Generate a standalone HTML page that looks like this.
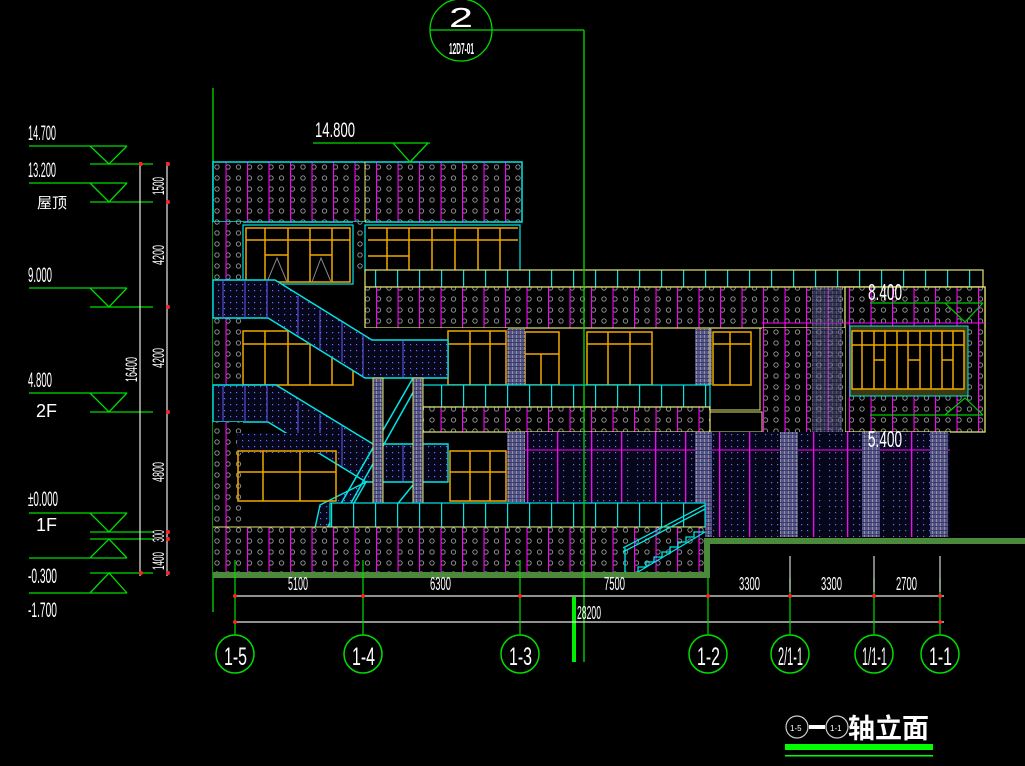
<!DOCTYPE html>
<html><head><meta charset="utf-8"><style>
html,body{margin:0;padding:0;background:#000;}
svg{display:block}
text{font-family:"Liberation Sans","Noto Sans CJK SC",sans-serif;fill:#fff}
</style></head><body>
<svg width="1025" height="766" viewBox="0 0 1025 766" xmlns="http://www.w3.org/2000/svg">
<defs>
<pattern id="dm" x="213" y="162" width="21.5" height="11" patternUnits="userSpaceOnUse">
<rect width="21.5" height="11" fill="#000"/>
<circle cx="4" cy="5" r="2.2" fill="none" stroke="#9a9a9a" stroke-width="0.9"/>
<circle cx="15" cy="5" r="2.2" fill="none" stroke="#9a9a9a" stroke-width="0.9"/>
<rect x="12.5" y="0" width="1.1" height="11" fill="#ff00ff"/>
</pattern>
<pattern id="dg" x="213" y="162" width="11" height="11" patternUnits="userSpaceOnUse">
<rect width="11" height="11" fill="#000"/>
<circle cx="4" cy="5" r="2.2" fill="none" stroke="#9a9a9a" stroke-width="0.9"/>
</pattern>
<pattern id="bl" x="0" y="0" width="6" height="6" patternUnits="userSpaceOnUse">
<rect width="6" height="6" fill="#06061a"/>
<rect x="2" y="2" width="1.2" height="1.2" fill="#6a6aff"/>
</pattern>
<pattern id="blm" x="507" y="0" width="64" height="6" patternUnits="userSpaceOnUse">
<rect width="64" height="6" fill="#06061a"/>
<rect x="2" y="2" width="1.2" height="1.2" fill="#6a6aff"/>
<rect x="8" y="2" width="1.2" height="1.2" fill="#6a6aff"/>
<rect x="14" y="2" width="1.2" height="1.2" fill="#6a6aff"/>
<rect x="20" y="2" width="1.2" height="1.2" fill="#6a6aff"/>
<rect x="26" y="2" width="1.2" height="1.2" fill="#6a6aff"/>
<rect x="32" y="2" width="1.2" height="1.2" fill="#6a6aff"/>
<rect x="38" y="2" width="1.2" height="1.2" fill="#6a6aff"/>
<rect x="44" y="2" width="1.2" height="1.2" fill="#6a6aff"/>
<rect x="50" y="2" width="1.2" height="1.2" fill="#6a6aff"/>
<rect x="56" y="2" width="1.2" height="1.2" fill="#6a6aff"/>
<rect x="20" y="0" width="1.3" height="6" fill="#ff00ff"/>
<rect x="50" y="0" width="1.3" height="6" fill="#ff00ff"/>
</pattern>
<pattern id="col" x="0" y="0" width="4" height="4" patternUnits="userSpaceOnUse">
<rect width="4" height="4" fill="#55558a"/>
<rect x="0" y="0" width="1" height="4" fill="#9090a0"/>
<rect x="0" y="2" width="4" height="0.8" fill="#303060"/>
</pattern>
<pattern id="tick" x="365" y="0" width="22" height="10" patternUnits="userSpaceOnUse">
<rect width="22" height="10" fill="#000"/>
<rect x="10" y="0" width="1.2" height="10" fill="#00e5e5"/>
</pattern>
</defs>

<!-- Left elevation marks -->
<g stroke="#00dd00" stroke-width="1.3" fill="none">
<line x1="29" y1="146" x2="127" y2="146"/><polyline points="90,146 109,164 127,146"/><line x1="90" y1="164" x2="153" y2="164"/>
<line x1="29" y1="183" x2="127" y2="183"/><polyline points="90,183 109,202 127,183"/><line x1="90" y1="202" x2="153" y2="202"/>
<line x1="29" y1="288" x2="127" y2="288"/><polyline points="90,288 109,307 127,288"/><line x1="90" y1="307" x2="153" y2="307"/>
<line x1="29" y1="393" x2="127" y2="393"/><polyline points="90,393 109,412 127,393"/><line x1="90" y1="412" x2="153" y2="412"/>
<line x1="29" y1="513" x2="127" y2="513"/><polyline points="90,513 109,532 127,513"/><line x1="90" y1="532" x2="153" y2="532"/>
<line x1="90" y1="539" x2="153" y2="539"/><polyline points="90,558 109,539 127,558"/><line x1="29" y1="558" x2="127" y2="558"/>
<line x1="90" y1="573" x2="153" y2="573"/><polyline points="90,593 109,573 127,593"/><line x1="29" y1="593" x2="127" y2="593"/>
</g>
<g font-size="21">
<text x="28" y="140" textLength="28" lengthAdjust="spacingAndGlyphs">14.700</text>
<text x="28" y="177" textLength="28" lengthAdjust="spacingAndGlyphs">13.200</text>
<text x="37" y="208" font-size="15">屋顶</text>
<text x="28" y="282" textLength="24" lengthAdjust="spacingAndGlyphs">9.000</text>
<text x="28" y="387" textLength="24" lengthAdjust="spacingAndGlyphs">4.800</text>
<text x="36" y="417" font-size="18">2F</text>
<text x="28" y="506" textLength="30" lengthAdjust="spacingAndGlyphs">±0.000</text>
<text x="36" y="531" font-size="18">1F</text>
<text x="28" y="583" textLength="29" lengthAdjust="spacingAndGlyphs">-0.300</text>
<text x="28" y="617" textLength="29" lengthAdjust="spacingAndGlyphs">-1.700</text>
</g>
<g stroke="#e8e8e8" stroke-width="1.2">
<line x1="140" y1="162" x2="140" y2="576"/><line x1="167" y1="162" x2="167" y2="576"/>
</g>
<g fill="#ff2020">
<circle cx="141" cy="164" r="2"/><circle cx="168" cy="164" r="2"/><circle cx="168" cy="202" r="2"/><circle cx="168" cy="307" r="2"/><circle cx="168" cy="412" r="2"/><circle cx="168" cy="532" r="2"/><circle cx="168" cy="539" r="2"/><circle cx="141" cy="573" r="2"/><circle cx="168" cy="573" r="2"/>
</g>
<g font-size="17">
<text transform="translate(164,195) rotate(-90)" textLength="18" lengthAdjust="spacingAndGlyphs">1500</text>
<text transform="translate(164,265) rotate(-90)" textLength="20" lengthAdjust="spacingAndGlyphs">4200</text>
<text transform="translate(164,368) rotate(-90)" textLength="20" lengthAdjust="spacingAndGlyphs">4200</text>
<text transform="translate(164,482) rotate(-90)" textLength="20" lengthAdjust="spacingAndGlyphs">4800</text>
<text transform="translate(164,542) rotate(-90)" textLength="12" lengthAdjust="spacingAndGlyphs">300</text>
<text transform="translate(164,570) rotate(-90)" textLength="18" lengthAdjust="spacingAndGlyphs">1400</text>
<text transform="translate(137,382) rotate(-90)" textLength="25" lengthAdjust="spacingAndGlyphs">16400</text>
</g>

<line x1="213" y1="88" x2="213" y2="612" stroke="#00dd00" stroke-width="1.3"/>

<!-- top block -->
<rect x="213" y="162" width="309" height="60" fill="url(#dm)" stroke="#00e5e5" stroke-width="1.5"/>
<line x1="365" y1="162" x2="365" y2="222" stroke="#e5e570"/>
<rect x="213" y="222" width="30" height="58" fill="url(#dm)"/>
<rect x="353" y="222" width="12" height="50" fill="url(#dg)"/>
<g>
<rect x="243" y="225" width="110" height="59" fill="#000" stroke="#00e5e5" stroke-width="1.2"/>
<g stroke="#f0a800" stroke-width="1.5" fill="none">
<rect x="246" y="228" width="104" height="54"/>
<line x1="265" y1="228" x2="265" y2="282"/><line x1="288" y1="228" x2="288" y2="282"/><line x1="310" y1="228" x2="310" y2="282"/><line x1="332" y1="228" x2="332" y2="282"/>
<line x1="246" y1="240" x2="350" y2="240"/><line x1="265" y1="255" x2="288" y2="255"/><line x1="310" y1="255" x2="332" y2="255"/>
</g>
<polyline points="267,282 277,258 287,282" stroke="#888" fill="none"/>
<polyline points="312,282 321,258 331,282" stroke="#888" fill="none"/>
<rect x="365" y="225" width="155" height="46" fill="#000" stroke="#00e5e5" stroke-width="1.2"/>
<g stroke="#f0a800" stroke-width="1.5" fill="none">
<line x1="368" y1="228" x2="518" y2="228"/><line x1="387" y1="228" x2="387" y2="270"/><line x1="409" y1="228" x2="409" y2="270"/><line x1="432" y1="228" x2="432" y2="270"/><line x1="455" y1="228" x2="455" y2="270"/><line x1="478" y1="228" x2="478" y2="270"/><line x1="500" y1="228" x2="500" y2="270"/>
<line x1="368" y1="240" x2="518" y2="240"/><line x1="368" y1="256" x2="409" y2="256"/>
</g>
</g>

<rect x="365" y="270" width="618" height="17" fill="url(#tick)" stroke="#e5e570" stroke-width="1.2"/>
<rect x="365" y="287" width="620" height="41" fill="url(#dm)" stroke="#e5e570" stroke-width="1.2"/>
<rect x="845" y="287" width="140" height="145" fill="url(#dm)" stroke="#e5e570" stroke-width="1.3"/>
<line x1="762" y1="323" x2="985" y2="323" stroke="#ff00ff"/>
<rect x="762" y="328" width="83" height="104" fill="url(#dm)"/>
<rect x="812" y="287" width="30" height="145" fill="url(#col)" opacity="0.6"/>
<rect x="850" y="326" width="118" height="70" fill="#3a3a10" stroke="#00e5e5"/>
<g stroke="#f0a800" stroke-width="1.5" fill="none">
<rect x="852" y="331" width="112" height="58" fill="#000"/>
<line x1="862" y1="331" x2="862" y2="389"/><line x1="874" y1="331" x2="874" y2="389"/><line x1="885" y1="331" x2="885" y2="389"/><line x1="897" y1="331" x2="897" y2="389"/><line x1="908" y1="331" x2="908" y2="389"/><line x1="920" y1="331" x2="920" y2="389"/><line x1="931" y1="331" x2="931" y2="389"/><line x1="942" y1="331" x2="942" y2="389"/><line x1="953" y1="331" x2="953" y2="389"/>
<line x1="852" y1="345" x2="964" y2="345"/><line x1="874" y1="360" x2="885" y2="360"/><line x1="908" y1="360" x2="920" y2="360"/><line x1="942" y1="360" x2="953" y2="360"/>
</g>
<g stroke="#00cc00" stroke-width="1.2" fill="none">
<line x1="870" y1="303" x2="983" y2="303"/><polyline points="945,303 965,322 983,303"/>
<line x1="870" y1="415" x2="983" y2="415"/><polyline points="945,415 965,398 983,415"/>
</g>
<text x="868" y="300" font-size="23" textLength="34" lengthAdjust="spacingAndGlyphs">8.400</text>

<!-- middle floor -->
<rect x="213" y="318" width="30" height="112" fill="url(#dm)"/>
<rect x="243" y="328" width="265" height="57" fill="#000"/>
<g stroke="#f0a800" stroke-width="1.5" fill="none">
<rect x="243" y="331" width="110" height="54"/>
<line x1="265" y1="331" x2="265" y2="385"/><line x1="288" y1="331" x2="288" y2="385"/><line x1="310" y1="331" x2="310" y2="385"/><line x1="332" y1="331" x2="332" y2="385"/>
<line x1="243" y1="344" x2="353" y2="344"/>
<rect x="448" y="331" width="58" height="54"/><line x1="470" y1="331" x2="470" y2="385"/><line x1="490" y1="331" x2="490" y2="385"/><line x1="448" y1="344" x2="506" y2="344"/>
<rect x="525" y="332" width="34" height="53"/><line x1="525" y1="354" x2="559" y2="354"/><line x1="541" y1="354" x2="541" y2="385"/>
<rect x="587" y="332" width="65" height="53"/><line x1="608" y1="332" x2="608" y2="385"/><line x1="630" y1="332" x2="630" y2="385"/><line x1="587" y1="344" x2="652" y2="344"/>
<rect x="713" y="332" width="38" height="53"/><line x1="730" y1="332" x2="730" y2="385"/><line x1="713" y1="344" x2="751" y2="344"/>
</g>
<rect x="507" y="329" width="18" height="56" fill="url(#col)"/>
<rect x="695" y="329" width="17" height="56" fill="url(#col)"/>
<rect x="710" y="328" width="50" height="82" fill="none" stroke="#e5e570"/>
<rect x="710" y="412" width="52" height="20" fill="none" stroke="#e5e570"/>

<rect x="420" y="385" width="290" height="22" fill="url(#tick)" stroke="#00e5e5" stroke-width="1.2"/>
<rect x="420" y="407" width="290" height="25" fill="url(#dm)" stroke="#e5e570" stroke-width="1.2"/>

<!-- stairs -->
<g fill="url(#bl)" stroke="#00e5e5" stroke-width="1.4">
<polygon points="213,280 275,280 372,340 448,340 448,378 365,378 268,318 213,318"/>
<polygon points="213,385 276,385 373,444 448,444 448,482 366,482 268,422 213,422"/>
<polygon points="320,505 366,482 340,528 315,528"/>
</g>
<g stroke="#6060ff" stroke-width="1">
<line x1="223" y1="280" x2="223" y2="318"/><line x1="245" y1="280" x2="245" y2="318"/><line x1="267" y1="280" x2="267" y2="318"/><line x1="298" y1="296" x2="298" y2="336"/><line x1="320" y1="310" x2="320" y2="350"/><line x1="342" y1="322" x2="342" y2="362"/><line x1="363" y1="334" x2="363" y2="378"/><line x1="403" y1="340" x2="403" y2="378"/>
<line x1="223" y1="385" x2="223" y2="422"/><line x1="245" y1="385" x2="245" y2="422"/><line x1="267" y1="385" x2="267" y2="422"/><line x1="298" y1="401" x2="298" y2="440"/><line x1="320" y1="414" x2="320" y2="454"/><line x1="342" y1="426" x2="342" y2="467"/><line x1="403" y1="444" x2="403" y2="482"/>
</g>
<rect x="213" y="422" width="30" height="108" fill="url(#dm)"/>
<rect x="237" y="433" width="90" height="20" fill="url(#bl)"/>
<g stroke="#f0a800" stroke-width="1.5" fill="none">
<rect x="238" y="451" width="98" height="50"/>
<line x1="263" y1="451" x2="263" y2="501"/><line x1="300" y1="451" x2="300" y2="501"/><line x1="238" y1="472" x2="336" y2="472"/>
<rect x="450" y="451" width="56" height="50"/><line x1="470" y1="451" x2="470" y2="501"/><line x1="490" y1="451" x2="490" y2="501"/><line x1="450" y1="472" x2="506" y2="472"/>
</g>
<g stroke="#00e5e5" stroke-width="1.5">
<line x1="327" y1="528" x2="413" y2="378"/><line x1="337" y1="528" x2="420" y2="380"/>
<line x1="413" y1="485" x2="378" y2="528"/>
</g>
<rect x="373" y="378" width="10" height="152" fill="url(#col)" stroke="#e5e570"/>
<rect x="413" y="378" width="10" height="152" fill="url(#col)" stroke="#e5e570"/>

<!-- lower blue region -->
<rect x="507" y="432" width="443" height="105" fill="url(#blm)"/>
<line x1="507" y1="450" x2="950" y2="450" stroke="#ff00ff"/>
<rect x="507" y="432" width="18" height="70" fill="url(#col)"/>
<rect x="695" y="432" width="17" height="105" fill="url(#col)"/>
<rect x="780" y="432" width="18" height="105" fill="url(#col)"/>
<rect x="862" y="432" width="18" height="105" fill="url(#col)"/>
<rect x="930" y="432" width="18" height="105" fill="url(#col)"/>
<text x="868" y="447" font-size="23" textLength="34" lengthAdjust="spacingAndGlyphs">5.400</text>

<rect x="330" y="503" width="375" height="24" fill="url(#tick)" stroke="#00e5e5" stroke-width="1.2"/>
<rect x="213" y="527" width="492" height="46" fill="url(#dm)"/>
<line x1="213" y1="527" x2="705" y2="527" stroke="#e5e570"/>
<g stroke="#00e5e5" stroke-width="1.3" fill="none">
<line x1="623" y1="548" x2="705" y2="505"/><line x1="623" y1="552" x2="705" y2="509"/>
<polyline points="638,572 638,567 646,567 646,562 654,562 654,557 662,557 662,552 670,552 670,547 678,547 678,542 686,542 686,537 694,537 694,532 705,532"/>
<line x1="625" y1="548" x2="625" y2="572"/><line x1="638" y1="572" x2="705" y2="532"/>
</g>

<g fill="#4a8a3a">
<rect x="213" y="572" width="497" height="6"/>
<rect x="704" y="538" width="6" height="40"/>
<rect x="704" y="538" width="321" height="6"/>
</g>

<line x1="584" y1="30" x2="584" y2="662" stroke="#00dd00" stroke-width="1.3"/>
<line x1="430" y1="30" x2="584" y2="30" stroke="#00dd00" stroke-width="1.3"/>
<circle cx="461" cy="30" r="31" fill="none" stroke="#00dd00" stroke-width="1.3"/>
<text x="449" y="27" font-size="28" textLength="24" lengthAdjust="spacingAndGlyphs">2</text>
<text x="449" y="54" font-size="16" font-weight="bold" textLength="25" lengthAdjust="spacingAndGlyphs">12D7-01</text>
<rect x="572" y="597" width="4" height="65" fill="#00ee00"/>

<g stroke="#00dd00" stroke-width="1.3" fill="none">
<line x1="313" y1="143" x2="430" y2="143"/><polyline points="393,143 410,162 428,143"/>
</g>
<text x="315" y="137" font-size="21" textLength="40" lengthAdjust="spacingAndGlyphs">14.800</text>

<g stroke="#e8e8e8" stroke-width="1.3">
<line x1="233" y1="596" x2="944" y2="596"/><line x1="233" y1="622" x2="944" y2="622"/>
</g>
<g stroke="#00dd00" stroke-width="1.2">
<line x1="235" y1="560" x2="235" y2="635"/><line x1="363" y1="560" x2="363" y2="635"/><line x1="520" y1="560" x2="520" y2="635"/><line x1="708" y1="578" x2="708" y2="635"/><line x1="790" y1="578" x2="790" y2="635"/><line x1="874" y1="578" x2="874" y2="635"/><line x1="940" y1="578" x2="940" y2="635"/>
</g>
<g stroke="#fff" stroke-width="1"><line x1="790" y1="556" x2="790" y2="592"/><line x1="874" y1="556" x2="874" y2="592"/><line x1="940" y1="556" x2="940" y2="592"/></g>
<g fill="#ff2020">
<circle cx="235" cy="596" r="2"/><circle cx="363" cy="596" r="2"/><circle cx="520" cy="596" r="2"/><circle cx="708" cy="596" r="2"/><circle cx="790" cy="596" r="2"/><circle cx="874" cy="596" r="2"/><circle cx="940" cy="596" r="2"/><circle cx="235" cy="622" r="2"/><circle cx="940" cy="622" r="2"/>
</g>
<g font-size="18">
<text x="288" y="590" textLength="20" lengthAdjust="spacingAndGlyphs">5100</text>
<text x="430" y="590" textLength="21" lengthAdjust="spacingAndGlyphs">6300</text>
<text x="604" y="590" textLength="21" lengthAdjust="spacingAndGlyphs">7500</text>
<text x="739" y="590" textLength="21" lengthAdjust="spacingAndGlyphs">3300</text>
<text x="821" y="590" textLength="21" lengthAdjust="spacingAndGlyphs">3300</text>
<text x="896" y="590" textLength="21" lengthAdjust="spacingAndGlyphs">2700</text>
<text x="577" y="619" textLength="24" lengthAdjust="spacingAndGlyphs">28200</text>
</g>
<g fill="none" stroke="#00dd00" stroke-width="1.5">
<circle cx="235" cy="654" r="19"/><circle cx="363" cy="654" r="19"/><circle cx="520" cy="654" r="19"/><circle cx="708" cy="654" r="19"/><circle cx="790" cy="654" r="19"/><circle cx="874" cy="654" r="19"/><circle cx="940" cy="654" r="19"/>
</g>
<g font-size="25">
<text x="224" y="665" textLength="23" lengthAdjust="spacingAndGlyphs">1-5</text>
<text x="352" y="665" textLength="23" lengthAdjust="spacingAndGlyphs">1-4</text>
<text x="509" y="665" textLength="23" lengthAdjust="spacingAndGlyphs">1-3</text>
<text x="697" y="665" textLength="23" lengthAdjust="spacingAndGlyphs">1-2</text>
<text x="778" y="665" textLength="25" lengthAdjust="spacingAndGlyphs">2/1-1</text>
<text x="862" y="665" textLength="25" lengthAdjust="spacingAndGlyphs">1/1-1</text>
<text x="929" y="665" textLength="23" lengthAdjust="spacingAndGlyphs">1-1</text>
</g>

<g fill="none" stroke="#ccc" stroke-width="1.2"><circle cx="797" cy="727" r="11"/><circle cx="837" cy="727" r="11"/></g>
<text x="790" y="731" font-size="8">1-5</text><text x="830" y="731" font-size="8">1-1</text>
<rect x="809" y="725" width="16" height="4" fill="#fff"/>
<text x="848" y="738" font-size="27" font-weight="bold">轴立面</text>
<rect x="785" y="744" width="148" height="6" fill="#00ff00"/>
<rect x="785" y="755" width="148" height="1.5" fill="#00ff00"/>
</svg>
</body></html>
